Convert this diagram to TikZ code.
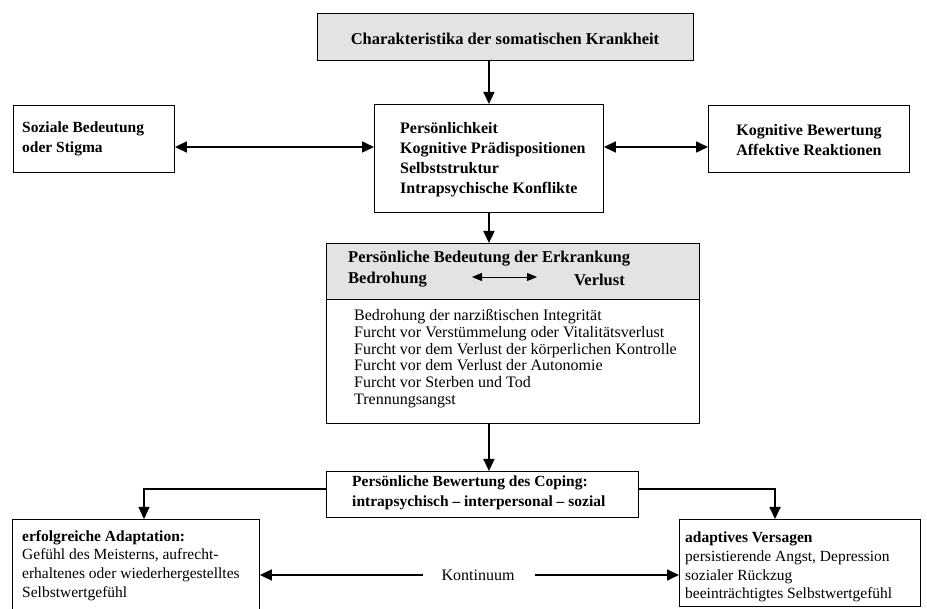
\documentclass[tikz,border=0pt]{standalone}
\usepackage{fontspec}
\setmainfont{Liberation Serif}
\usetikzlibrary{arrows.meta}
\begin{document}
\begin{tikzpicture}[x=1pt,y=-1pt,
  frame/.style={draw, line width=0.9pt, inner sep=0pt, anchor=north west},
  shaded/.style={fill=black!11},
  txt/.style={inner sep=0pt, align=left, font=\fontsize{15.5}{18.7}\selectfont},
  btxt/.style={inner sep=0pt, align=left, font=\fontsize{16}{20}\selectfont\bfseries},
  arr/.style={line width=1.6pt, -{Triangle[length=12pt,width=11pt]}},
  darr/.style={line width=1.6pt, {Triangle[length=12pt,width=11pt]}-{Triangle[length=12pt,width=11pt]}},
  tdarr/.style={line width=0.9pt, {Triangle[length=10pt,width=8pt]}-{Triangle[length=10pt,width=8pt]}},
]
\useasboundingbox (0,0) rectangle (927,609);

% top box
\node[frame, shaded, minimum width=376pt, minimum height=47pt] (top) at (317,13) {};
\node[btxt, font=\fontsize{16.5}{20}\selectfont\bfseries] (toptxt) at (505,39) {Charakteristika der somatischen Krankheit};

% middle row
\node[frame, minimum width=229pt, minimum height=108pt] (mid) at (374,104) {};
\node[btxt, anchor=west] (midtxt) at (400,160) {Persönlichkeit\\Kognitive Prädispositionen\\Selbststruktur\\Intrapsychische Konflikte};

\node[frame, minimum width=161pt, minimum height=67pt] (soz) at (13,105) {};
\node[btxt, anchor=west, font=\fontsize{15.5}{20}\selectfont\bfseries] (soztxt) at (22,139) {Soziale Bedeutung\\oder Stigma};

\node[frame, minimum width=201pt, minimum height=67pt] (kog) at (708,105) {};
\node[btxt, align=center] (kogtxt) at (809,140.5) {Kognitive Bewertung\\Affektive Reaktionen};

\coordinate (lvl) at (0,147);
\draw[darr] (soz.east |- lvl) -- (mid.west |- lvl);
\draw[darr] (mid.east |- lvl) -- (kog.west |- lvl);

% personal meaning box
\node[frame, shaded, minimum width=373pt, minimum height=56pt] (bedhead) at (326,243) {};
\node[frame, minimum width=373pt, minimum height=180pt] (bed) at (326,243) {};
\node[btxt, anchor=west, font=\fontsize{16.5}{20}\selectfont\bfseries] (bedt1) at (348,259) {Persönliche Bedeutung der Erkrankung};
\node[btxt, anchor=west, font=\fontsize{16.5}{20}\selectfont\bfseries] (bedrohung) at (348,280) {Bedrohung};
\node[btxt, anchor=east, font=\fontsize{16.5}{20}\selectfont\bfseries] (verlust) at (625,280) {Verlust};
\coordinate (dl) at (472,277);
\coordinate (dr) at (537,277);
\draw[tdarr] (dl) -- (dr);
\node[txt, anchor=west, font=\fontsize{16}{16.8}\selectfont] (bedbody) at (354,358.5) {Bedrohung der narzißtischen Integrität\\Furcht vor Verstümmelung oder Vitalitätsverlust\\Furcht vor dem Verlust der körperlichen Kontrolle\\Furcht vor dem Verlust der Autonomie\\Furcht vor Sterben und Tod\\Trennungsangst};

% coping box
\node[frame, minimum width=312pt, minimum height=46pt] (cop) at (326,471) {};
\node[btxt, anchor=west, font=\fontsize{15.5}{20}\selectfont\bfseries] (coptxt) at (352,493) {Persönliche Bewertung des Coping:\\intrapsychisch -- interpersonal -- sozial};

% bottom boxes
\node[frame, minimum width=247pt, minimum height=95pt] (erf) at (12,519) {};
\node[txt, anchor=west] (erftxt) at (22,565.5) {\textbf{erfolgreiche Adaptation:}\\Gefühl des Meisterns, aufrecht-\\erhaltenes oder wiederhergestelltes\\Selbstwertgefühl};

\node[frame, minimum width=241pt, minimum height=87pt] (ver) at (679,519) {};
\node[txt, anchor=west] (vertxt) at (685,567) {\textbf{adaptives Versagen}\\persistierende Angst, Depression\\sozialer Rückzug\\beeinträchtigtes Selbstwertgefühl};

% vertical arrows
\draw[arr] (mid.north |- top.south) -- (mid.north);
\draw[arr] (mid.south) -- (mid.south |- bed.north);
\draw[arr] (bed.south -| mid.south) -- (cop.north -| mid.south);

% branches
\coordinate (lb) at (144,489);
\coordinate (rb) at (775,489);
\draw[arr, line width=1.1pt] (cop.west |- lb) -- (lb) -- (lb |- erf.north);
\draw[arr, line width=1.8pt] (cop.east |- rb) -- (rb) -- (rb |- ver.north);

% continuum
\node[txt, font=\fontsize{16}{19}\selectfont] (kont) at (478,575) {Kontinuum};
\draw[arr] ([xshift=-18pt]kont.west) -- (kont.west -| erf.east);
\draw[arr] ([xshift=20pt]kont.east) -- (kont.east -| ver.west);
\end{tikzpicture}
\end{document}
